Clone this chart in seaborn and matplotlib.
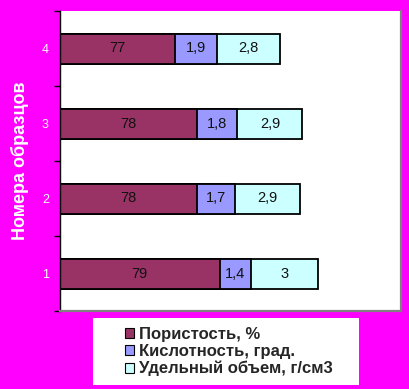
import matplotlib
matplotlib.use("Agg")
import matplotlib.pyplot as plt
import matplotlib.patches as mpatches
import seaborn as sns
import pandas as pd
import numpy as np

samples = ["4", "3", "2", "1"]
porosity = [77, 78, 78, 79]
acidity = [1.9, 1.8, 1.7, 1.4]
volume = [2.8, 2.9, 2.9, 3.0]
series_names = ["Пористость, %", "Кислотность, град.", "Удельный объем, г/см3"]
colors = ["#993366", "#9999FF", "#CCFFFF"]
y_label = "Номера образцов"

sns.set_theme(style="white")
plt.rcParams["font.family"] = ["Liberation Sans", "DejaVu Sans"]

fig = plt.figure(figsize=(4.09, 3.89), dpi=100, facecolor="#FF00FF")
ax = fig.add_axes([60/409, 1-311/389, 341/409, 300/389])
ax.set_facecolor("white")

df = pd.DataFrame({"sample": samples, "p": porosity, "a": acidity, "v": volume})
df["pa"] = df["p"] + df["a"]
df["pav"] = df["pa"] + df["v"]

for col, c in zip(["pav", "pa", "p"], colors[::-1]):
    sns.barplot(data=df, x=col, y="sample", order=samples, orient="h",
                color=c, saturation=1, width=0.4, edgecolor="black",
                linewidth=1.3, ax=ax)

def fmt(v):
    s = f"{v:g}"
    return s.replace(".", ",")

for i in range(len(samples)):
    lefts = [0, porosity[i], porosity[i] + acidity[i]]
    vals = [porosity[i], acidity[i], volume[i]]
    for j, (l, v) in enumerate(zip(lefts, vals)):
        center = l + v / 2 if j > 0 else (71.88 + porosity[i]) / 2
        ax.text(center, i, fmt(v), ha="center", va="center", fontsize=10.5, color="#111111")

ax.set_xlim(71.88, 87.1)
ax.set_ylim(3.5, -0.5)
ax.set_xticks([])
ax.set_xlabel("")
ax.set_yticks(range(len(samples)))
ax.set_yticklabels(samples, color="white", fontsize=9)
ax.tick_params(axis="y", which="major", length=0, pad=8)
ax.set_yticks(np.arange(-0.5, len(samples), 1), minor=True)
ax.tick_params(axis="y", which="minor", length=4, width=1, color="black", left=True)
ax.set_ylabel(y_label, color="white", fontsize=13, fontweight="bold")
ax.yaxis.label.set_va("center")
ax.yaxis.set_label_coords((20 - 60) / 341, 0.5)

ax.spines["top"].set_visible(False)
ax.spines["left"].set_color("black")
ax.spines["left"].set_linewidth(1.0)
for s in ["right", "bottom"]:
    ax.spines[s].set_color("#808080")
    ax.spines[s].set_linewidth(1.6)

# legend box
fig.patches.append(mpatches.Rectangle((93/409, 1-385/389), (359-93)/409, (385-318)/389,
                                      transform=fig.transFigure, facecolor="white",
                                      edgecolor="none", zorder=0))
handles = [mpatches.Patch(facecolor=c, edgecolor="black", linewidth=0.8, label=n)
           for c, n in zip(colors, series_names)]
fig.legend(handles=handles, loc="upper left", bbox_to_anchor=(113/409, 1-315/389),
           frameon=False, handlelength=0.55, handleheight=0.55,
           handletextpad=0.3, labelspacing=0.13, borderpad=0.2,
           prop={"weight": "bold", "size": 12})

fig.savefig("out.png", dpi=100, facecolor=fig.get_facecolor())
